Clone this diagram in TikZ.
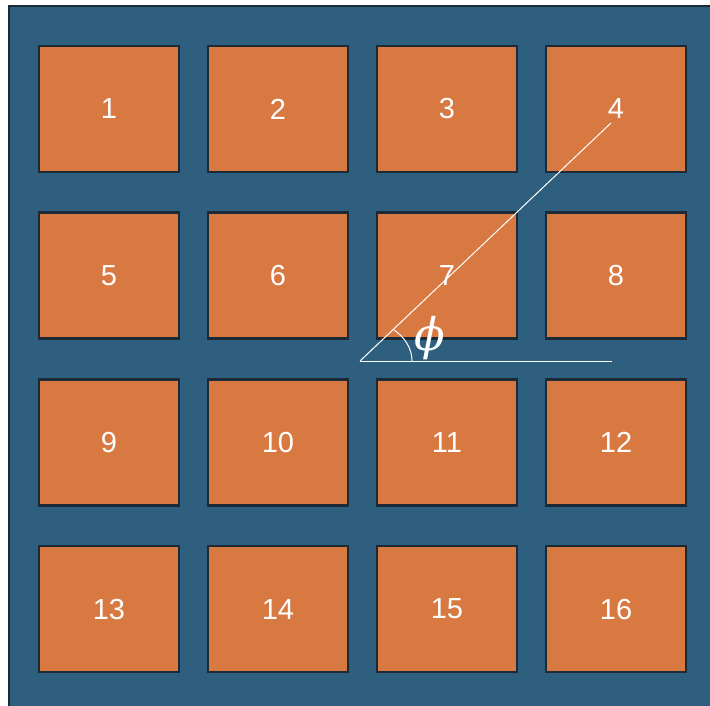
\documentclass[tikz,border=0pt]{standalone}
\usepackage{fontspec}
\setmainfont{Liberation Sans}
\newfontfamily\phifont{DejaVu Serif}
\definecolor{bgblue}{HTML}{2E5F7F}
\definecolor{tileor}{HTML}{D97942}
\definecolor{edge}{HTML}{1B2A36}
\begin{document}
\begin{tikzpicture}[x=1pt,y=-1pt,
  tile/.style={draw=edge,line width=2.5pt,fill=tileor,minimum width=140pt,minimum height=126pt,inner sep=0pt,
    text=white,font=\fontsize{29}{34}\selectfont},
  guide/.style={draw=white,line width=1pt}]
\useasboundingbox (0,0) rectangle (710,706);
\fill[white] (0,0) rectangle (710,706);
\fill[bgblue] (9,6) rectangle (712,708);
\draw[edge,line width=2pt] (9,708) -- (9,6) -- (712,6);
\foreach \r in {0,1,2,3}{
  \foreach \c in {0,1,2,3}{
    \pgfmathtruncatemacro{\n}{\r*4+\c+1}
    \pgfmathsetmacro{\cx}{109+169*\c}
    \pgfmathsetmacro{\cy}{109+166.7*\r}
    \node[tile] (t\n) at (\cx,\cy) {\n};
  }
}
\coordinate (o) at (360,361);
\coordinate (h) at (612,361);
\coordinate (d) at (611,123);
\draw[guide] (o) -- (h);
\draw[guide] (o) -- (d);
\draw[guide] (412,361) arc[start angle=0,end angle=51,x radius=52,y radius=-41];
\node[inner sep=0pt,text=white,font=\phifont\itshape\fontsize{45}{50}\selectfont] (phi) at (430,338) {ϕ};
\end{tikzpicture}
\end{document}
